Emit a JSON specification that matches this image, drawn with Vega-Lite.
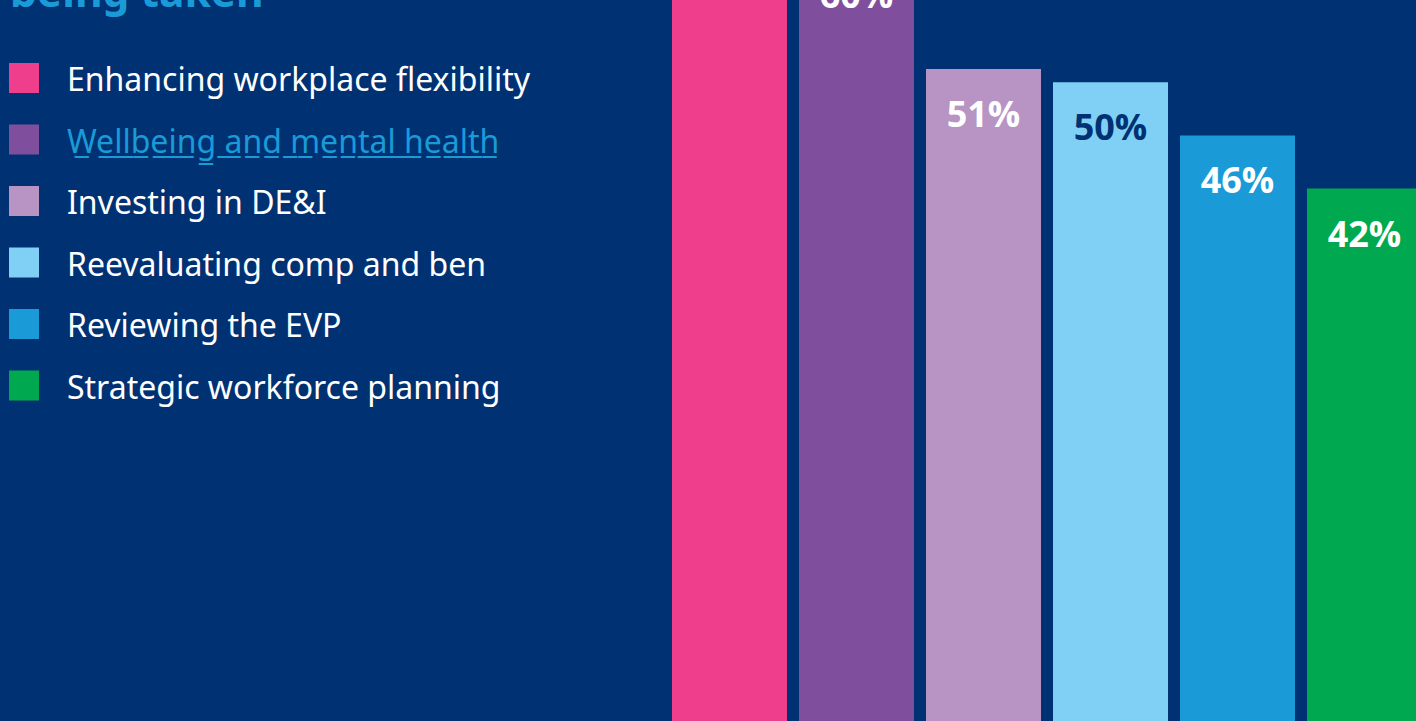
{
  "$schema": "https://vega.github.io/schema/vega-lite/v6.json",
  "width": 1416,
  "height": 721,
  "autosize": "none",
  "padding": 0,
  "background": "#003273",
  "title": {
    "text": "being taken",
    "anchor": "start",
    "frame": "group",
    "orient": "top",
    "offset": -49,
    "dx": 10,
    "baseline": "alphabetic",
    "font": "Noto Sans",
    "fontSize": 42.5,
    "fontWeight": "bold",
    "color": "#1a9ad6"
  },
  "config": {"view": {"stroke": null}},
  "data": {
    "values": [
      {"action": "Enhancing workplace flexibility", "pct": 67, "label": "67%"},
      {"action": "Wellbeing and mental health", "pct": 60, "label": "60%"},
      {"action": "Investing in DE&I", "pct": 51, "label": "51%"},
      {"action": "Reevaluating comp and ben", "pct": 50, "label": "50%"},
      {"action": "Reviewing the EVP", "pct": 46, "label": "46%"},
      {"action": "Strategic workforce planning", "pct": 42, "label": "42%"}
    ]
  },
  "encoding": {
    "x": {
      "field": "action",
      "type": "nominal",
      "sort": null,
      "axis": null,
      "scale": {"range": [672, 1422], "paddingInner": 0.0945, "paddingOuter": 0}
    },
    "y": {
      "field": "pct",
      "type": "quantitative",
      "axis": null,
      "scale": {"domain": [1.9, 56.2], "nice": false, "zero": false}
    }
  },
  "layer": [
    {
      "mark": {"type": "bar", "clip": true},
      "encoding": {
        "color": {
          "field": "action",
          "type": "nominal",
          "sort": null,
          "scale": {
            "domain": ["Enhancing workplace flexibility", "Wellbeing and mental health", "Investing in DE&I", "Reevaluating comp and ben", "Reviewing the EVP", "Strategic workforce planning"],
            "range": ["#ef3e8c", "#7f4f9e", "#b794c4", "#7fd0f4", "#1a9ad6", "#00a94f"]
          },
          "legend": {
            "title": null,
            "orient": "none",
            "legendX": 8,
            "legendY": 62,
            "symbolType": "square",
            "symbolSize": 900,
            "symbolStrokeWidth": 0,
            "symbolOpacity": 1,
            "labelFont": "Noto Sans",
            "labelFontSize": 32,
            "labelColor": "white",
            "labelOffset": 27,
            "labelLimit": 0,
            "rowPadding": 26.5,
            "offset": 0,
            "padding": 0,
            "labelExpr": "datum.label === 'Wellbeing and mental health' ? replace(datum.label, /(.)/g, '$1\u0332') : datum.label",
            "encode": {
              "labels": {
                "update": {
                  "fill": {"signal": "indexof(datum.label, 'Wellbeing') === 0 ? '#1a9ad6' : 'white'"},
                  "dy": {"value": 3}
                }
              }
            }
          }
        }
      }
    },
    {
      "mark": {
        "type": "text",
        "clip": true,
        "dy": 58,
        "baseline": "alphabetic",
        "align": "center",
        "font": "Open Sans",
        "fontSize": 36,
        "fontWeight": "bold"
      },
      "encoding": {
        "text": {"field": "label"},
        "color": {
          "condition": {"test": "datum.action === 'Reevaluating comp and ben'", "value": "#003273"},
          "value": "white"
        }
      }
    }
  ]
}
